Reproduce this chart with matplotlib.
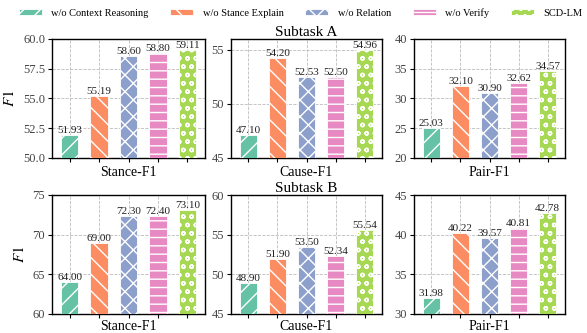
import numpy as np
import matplotlib
matplotlib.use("Agg")
import matplotlib.pyplot as plt

plt.rcParams['font.family'] = ['Liberation Serif', 'DejaVu Serif']
plt.rcParams['mathtext.fontset'] = 'stix'
plt.rcParams['hatch.linewidth'] = 1.0

# == 데이터 ====================================================================
methods = ['w/o Context Reasoning', 'w/o Stance Explain', 'w/o Relation', 'w/o Verify', 'SCD-LM']
metrics = ['Stance-F1', 'Cause-F1', 'Pair-F1']

task_a_stance = [51.93, 55.19, 58.60, 58.80, 59.11]
task_a_cause  = [47.10, 54.20, 52.53, 52.50, 54.96]
task_a_pair   = [25.03, 32.10, 30.90, 32.62, 34.57]

task_b_stance = [64.00, 69.00, 72.30, 72.40, 73.10]
task_b_cause  = [48.90, 51.90, 53.50, 52.34, 55.54]
task_b_pair   = [31.98, 40.22, 39.57, 40.81, 42.78]

colors  = ['#66c2a5', '#fc8d62', '#8da0cb', '#e78ac3', '#a6d854']
hatches = ['//', '\\\\', 'xx', '--', 'oo']

# (ylim, yticks, tick 포맷)
axis_cfg = {
    ('A', 0): ((50, 60), [50, 52.5, 55, 57.5, 60], '{:.1f}'),
    ('A', 1): ((45, 56), [45, 50, 55], '{:.0f}'),
    ('A', 2): ((20, 40), [20, 25, 30, 35, 40], '{:.0f}'),
    ('B', 0): ((60, 75), [60, 65, 70, 75], '{:.0f}'),
    ('B', 1): ((45, 60), [45, 50, 55, 60], '{:.0f}'),
    ('B', 2): ((30, 45), [30, 35, 40, 45], '{:.0f}'),
}

rows = [('A', [task_a_stance, task_a_cause, task_a_pair]),
        ('B', [task_b_stance, task_b_cause, task_b_pair])]

# == 플롯 ======================================================================
W, H = 587, 333
fig = plt.figure(figsize=(W / 100, H / 100), dpi=100)

lefts  = [52, 231, 414]
widths = [153, 151, 151]
tops   = [39, 195]
ax_h   = 119
xlab_off = [15, 12]   # spine 아래 xlabel 중심까지 (px)

x = np.arange(len(methods))
handles = None
for r, (task, series) in enumerate(rows):
    for c, vals in enumerate(series):
        ax = fig.add_axes([lefts[c] / W, 1 - (tops[r] + ax_h) / H, widths[c] / W, ax_h / H])
        bars = ax.bar(x, vals, 0.6, color=colors, edgecolor='white', linewidth=0.6, zorder=3)
        for b, h in zip(bars, hatches):
            b.set_hatch(h)
        if handles is None:
            handles = bars
        for xi, v in zip(x, vals):
            ax.text(xi, v, f'{v:.2f}', ha='center', va='bottom', fontsize=8, color='#222222')
        ylim, yticks, fmt = axis_cfg[(task, c)]
        ax.set_ylim(*ylim)
        ax.set_yticks(yticks)
        ax.set_yticklabels([fmt.format(t) for t in yticks], fontsize=9, color='#444444')
        ax.set_xlim(-0.6, 4.6)
        ax.set_xticks(x)
        ax.set_xticklabels([])
        ax.tick_params(length=3, width=0.8, pad=2)
        ax.set_xlabel(metrics[c], fontsize=10)
        ax.xaxis.label.set_va('center')
        ax.xaxis.set_label_coords(0.5, -xlab_off[r] / ax_h)
        ax.grid(True, linestyle='--', linewidth=0.6, color='#bbbbbb', zorder=0)
        for s in ax.spines.values():
            s.set_linewidth(1.0)
        if c == 0:
            ax.set_ylabel('$F1$', fontsize=11, labelpad=4)
        if c == 1:
            ax.set_title(f'Subtask {task}', fontsize=11, pad=2)

fig.legend(handles, methods, loc='center', bbox_to_anchor=(0.5 + 7 / W, 1 - 13 / H), ncol=5,
           frameon=False, fontsize=7.5, handlelength=2.2, handleheight=0.5,
           columnspacing=2.1, handletextpad=0.9)

plt.savefig('out.png', dpi=100)
plt.close()
